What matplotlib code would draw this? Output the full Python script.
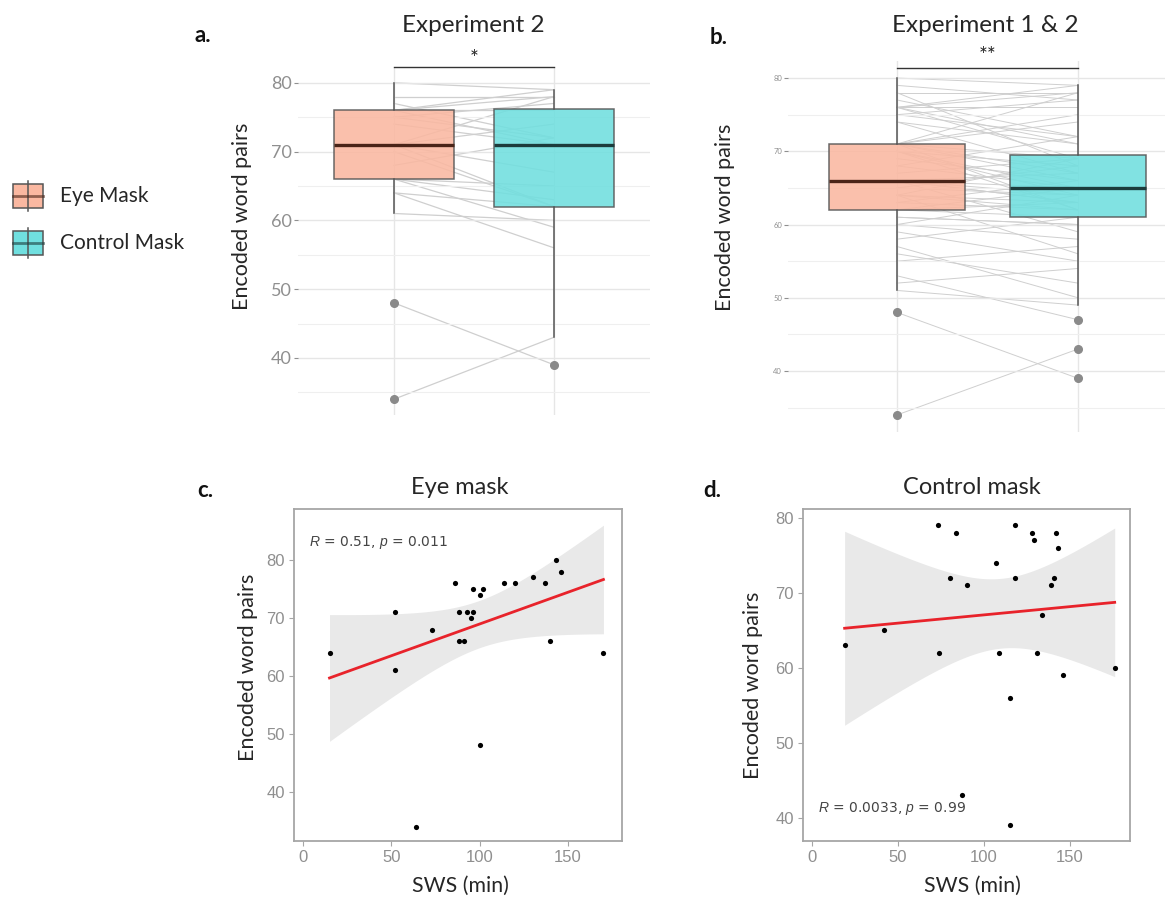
import numpy as np
import matplotlib
matplotlib.use("Agg")
import matplotlib.pyplot as plt
from matplotlib.patches import Rectangle

W, H = 1165, 899

# ---------------- data ----------------
groups = ["Eye Mask", "Control Mask"]

# Experiment 2 (paired, per subject)
exp2_eye = [34, 48, 61, 64, 64, 66, 66, 66, 68, 70, 71, 71, 71, 71, 74, 75, 75, 76, 76, 76, 76, 77, 78, 80]
exp2_ctrl = [43, 39, 60, 56, 62, 59, 63, 65, 72, 62, 67, 74, 78, 62, 71, 77, 72, 78, 71, 76, 79, 72, 78, 79]

# Experiment 1 (paired, per subject) - combined with Experiment 2 in panel b
exp1_eye = [51, 52, 53, 55, 56, 57, 58, 59, 60, 60, 61, 62, 62, 62, 63, 63, 64, 64, 65, 65,
            66, 66, 66, 67, 68, 69, 70, 70, 70, 71, 71, 71, 74, 76, 78, 79]
exp1_ctrl = [49, 54, 47, 57, 52, 50, 61, 55, 64, 58, 60, 65, 63, 61, 66, 62, 69, 63, 64, 68,
             63, 67, 64, 69, 65, 66, 64, 68, 65, 75, 66, 69, 67, 69, 68, 77]

# Panel c: SWS vs encoded word pairs, eye mask
sws_eye = [15, 52, 52, 64, 73, 86, 88, 88, 91, 93, 96, 95, 96, 100, 100, 102, 114, 120, 130, 137, 140, 143, 146, 170]
enc_eye = [64, 71, 61, 34, 68, 76, 71, 66, 66, 71, 71, 70, 75, 74, 48, 75, 76, 76, 77, 76, 66, 80, 78, 64]

# Panel d: SWS vs encoded word pairs, control mask
sws_ctrl = [19, 42, 73, 74, 80, 84, 87, 90, 107, 109, 115, 115, 118, 118, 128, 129, 131, 134, 139, 141, 142, 143, 146, 176]
enc_ctrl = [63, 65, 79, 62, 72, 78, 43, 71, 74, 62, 56, 39, 79, 72, 78, 77, 62, 67, 71, 72, 78, 76, 59, 60]

stat_eye = "$\\it{R}$ = 0.51, $\\it{p}$ = 0.011"
stat_ctrl = "$\\it{R}$ = 0.0033, $\\it{p}$ = 0.99"
yticks_box = [40, 50, 60, 70, 80]
xticks_sc = [0, 50, 100, 150]
T975 = 2.074  # t quantile, df = 22

# ---------------- style ----------------
plt.rcParams['mathtext.fontset'] = 'custom'
plt.rcParams['mathtext.rm'] = 'Liberation Sans'
plt.rcParams['mathtext.it'] = 'Liberation Sans:italic'
LBL = 'Lato'
EYE_FILL, CTRL_FILL = '#FAB8A1', '#70DFDF'
EYE_MED, CTRL_MED = '#4a2418', '#1c3c3c'
GRID = '#e6e6e6'
TICKC = '#8f8f8f'

fig = plt.figure(figsize=(W / 100, H / 100), dpi=100)


def px_axes(left, top, right, bottom):
    return fig.add_axes([left / W, 1 - bottom / H, (right - left) / W, (bottom - top) / H])


def fx(x):
    return x / W


def fy(y):
    return 1 - y / H


def box_panel(ax, eye, ctrl, tick_fs, lw_lines):
    ax.set_xlim(0.4, 2.6)
    ax.set_ylim(31.7, 82.3)
    for s in ax.spines.values():
        s.set_visible(False)
    ax.set_yticks(yticks_box)
    ax.set_yticks([35, 45, 55, 65, 75], minor=True)
    ax.set_xticks([1, 2])
    ax.grid(True, which='major', axis='both', color=GRID, lw=1.0, zorder=0)
    ax.grid(True, which='minor', axis='y', color='#efefef', lw=0.8, zorder=0)
    ax.tick_params(axis='x', length=0, labelbottom=False)
    ax.tick_params(axis='y', which='major', length=3, color=TICKC, labelcolor=TICKC,
                   labelsize=tick_fs, pad=1.5)
    ax.tick_params(axis='y', which='minor', length=0)
    for lab in ax.get_yticklabels():
        lab.set_fontfamily(LBL)
    for e, c in zip(eye, ctrl):
        ax.plot([1, 2], [e, c], color='#cfcfcf', lw=lw_lines, zorder=1)
    bp = ax.boxplot([eye, ctrl], positions=[1, 2], widths=0.75, whis=1.5,
                    patch_artist=True, manage_ticks=False, zorder=2,
                    boxprops=dict(edgecolor='#555555', lw=1.1),
                    whiskerprops=dict(color='#555555', lw=1.1),
                    capprops=dict(lw=0),
                    flierprops=dict(marker='o', markerfacecolor='#8a8a8a',
                                    markeredgecolor='#8a8a8a', markersize=5.5))
    for patch, fc in zip(bp['boxes'], [EYE_FILL, CTRL_FILL]):
        patch.set_facecolor(fc)
        patch.set_alpha(0.88)
    for med, mc in zip(bp['medians'], [EYE_MED, CTRL_MED]):
        med.set_color(mc)
        med.set_linewidth(2.4)
    return bp


# ---------------- panel a ----------------
axa = px_axes(298, 67, 650, 415)
box_panel(axa, exp2_eye, exp2_ctrl, 13, 0.9)
axa.plot([1, 2], [82.3, 82.3], color='#333333', lw=1.0, clip_on=False)
axa.text(1.5, 82.0, '*', ha='center', va='bottom', fontsize=15, family=LBL, color='#222222')

# ---------------- panel b ----------------
axb = px_axes(788.4, 61.2, 1186.6, 431.8)
box_panel(axb, exp1_eye + exp2_eye, exp1_ctrl + exp2_ctrl, 5.5, 0.7)
axb.plot([1, 2], [81.4, 81.4], color='#333333', lw=1.0, clip_on=False)
axb.text(1.5, 81.7, '**', ha='center', va='bottom', fontsize=15, family=LBL, color='#222222')


# ---------------- scatter panels ----------------
def scatter_panel(ax, xs, ys, xlim, ylim, txt, txt_xy):
    x = np.array(xs, float)
    y = np.array(ys, float)
    n = len(x)
    b1, b0 = np.polyfit(x, y, 1)
    xx = np.linspace(x.min(), x.max(), 100)
    yy = b0 + b1 * xx
    resid = y - (b0 + b1 * x)
    s = np.sqrt(np.sum(resid ** 2) / (n - 2))
    sxx = np.sum((x - x.mean()) ** 2)
    se = s * np.sqrt(1 / n + (xx - x.mean()) ** 2 / sxx)
    ax.fill_between(xx, yy - T975 * se, yy + T975 * se, color='#e9e9e9', lw=0, zorder=1)
    ax.plot(xx, yy, color='#e8232b', lw=2.0, zorder=3)
    ax.scatter(x, y, s=14, color='black', zorder=4, lw=0)
    ax.set_xlim(*xlim)
    ax.set_ylim(*ylim)
    ax.set_xticks(xticks_sc)
    ax.set_yticks(yticks_box)
    for sp in ax.spines.values():
        sp.set_color('#a6a6a6')
        sp.set_linewidth(1.3)
    ax.tick_params(length=3.5, color='#a6a6a6', labelcolor=TICKC, labelsize=12, pad=3)
    for lab in ax.get_xticklabels() + ax.get_yticklabels():
        lab.set_fontfamily('Liberation Sans')
    ax.text(txt_xy[0], txt_xy[1], txt, transform=ax.transAxes, fontsize=10,
            color='#444444', va='center', ha='left')


axc = px_axes(294, 509, 622, 841)
scatter_panel(axc, sws_eye, enc_eye, (-5.1, 180.5), (31.5, 88.8), stat_eye, (0.045, 0.90))

axd = px_axes(803, 509, 1130, 841)
scatter_panel(axd, sws_ctrl, enc_ctrl, (-5.2, 184.9), (36.9, 81.2), stat_ctrl, (0.045, 0.097))

# ---------------- texts ----------------
TCOL = '#262626'
fig.text(fx(473), fy(26), 'Experiment 2', ha='center', va='center', fontsize=17.5, family=LBL, color=TCOL)
fig.text(fx(985), fy(26), 'Experiment 1 & 2', ha='center', va='center', fontsize=17.5, family=LBL, color=TCOL)
fig.text(fx(460), fy(487), 'Eye mask', ha='center', va='center', fontsize=17, family=LBL, color=TCOL)
fig.text(fx(972), fy(487), 'Control mask', ha='center', va='center', fontsize=17, family=LBL, color=TCOL)

for xy in [(242, 216), (725, 217), (248, 667), (753, 685)]:
    fig.text(fx(xy[0]), fy(xy[1]), 'Encoded word pairs', rotation=90, ha='center', va='center',
             fontsize=15.5, family=LBL, color=TCOL)
for xc in [460, 972]:
    fig.text(fx(xc), fy(886), 'SWS (min)', ha='center', va='center', fontsize=15.3, family=LBL, color=TCOL)

for lab, xy in [('a.', (203, 35)), ('b.', (719, 37)), ('c.', (205, 490)), ('d.', (712, 490))]:
    fig.text(fx(xy[0]), fy(xy[1]), lab, ha='center', va='center', fontsize=16,
             fontweight='bold', family=LBL, color='#111111')

# ---------------- legend ----------------
axl = fig.add_axes([0, 0, 1, 1])
axl.set_xlim(0, W)
axl.set_ylim(H, 0)
axl.axis('off')
axl.patch.set_visible(False)
for i, (name, fc, mc) in enumerate(zip(groups, [EYE_FILL, CTRL_FILL], [EYE_MED, CTRL_MED])):
    cy = 196 + i * 47
    axl.plot([28, 28], [cy - 15, cy + 15], color='#555555', lw=1.1)
    axl.add_patch(Rectangle((13, cy - 12), 30, 24, facecolor=fc, edgecolor='#555555', lw=1.1))
    axl.plot([13, 43], [cy, cy], color=mc, lw=2.0, alpha=0.6)
    axl.text(60, cy, name, ha='left', va='center', fontsize=15, family=LBL, color=TCOL)

fig.savefig('out.png', dpi=100)
